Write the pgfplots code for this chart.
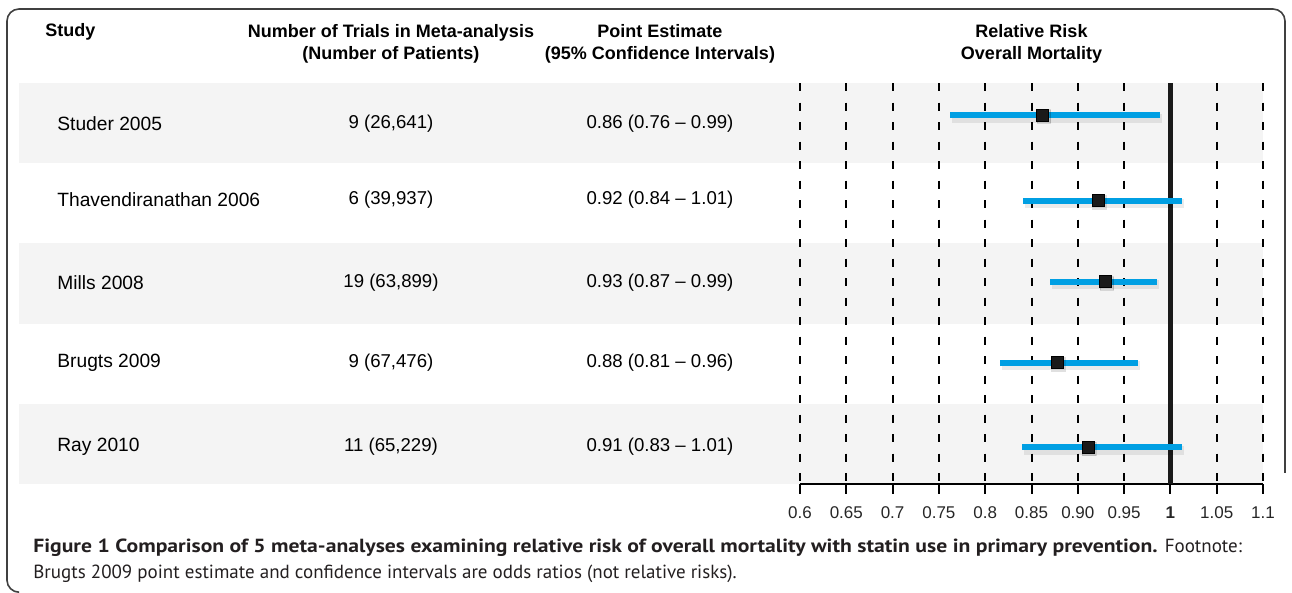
\documentclass[border=0pt]{standalone}
\usepackage{pgfplots}
\pgfplotsset{compat=1.18}
\usepackage{fontspec}
\setmainfont{Liberation Sans}
\newfontfamily\capfont{PT Sans}
\newfontfamily\capbold{PT Sans}[FakeStretch=1.14]
\definecolor{ciblue}{HTML}{009FE3}
\definecolor{bandgray}{HTML}{F4F4F4}
\definecolor{mk}{HTML}{1A1A1A}
\definecolor{captxt}{HTML}{231F20}
\begin{document}
\begin{tikzpicture}
\draw[line width=0.8pt, color=black!75, rounded corners=6pt] (9pt,0.4pt) -- (3.5pt,0.4pt) -- (3.5pt,292pt) -- (642.5pt,292pt) -- (642.5pt,60pt);
\begin{axis}[
  set layers,
  at={(400pt,54.5pt)}, anchor=south west,
  scale only axis, width=231.5pt, height=200.5pt,
  xmin=0.6, xmax=1.1, ymin=0, ymax=5, y dir=reverse,
  clip=false,
  axis x line=bottom, axis y line=left,
  y axis line style={draw=none}, ytick=\empty,
  x axis line style={-, line width=1pt, black},
  xtick={0.6,0.65,0.7,0.75,0.8,0.85,0.9,0.95,1,1.05,1.1},
  xticklabels={0.6,0.65,0.7,0.75,0.8,0.85,0.90,0.95,\textbf{1},1.05,1.1},
  tick align=outside, major tick length=5pt,
  xtick style={line width=1pt, black},
  xticklabel style={font=\fontsize{8.5}{10}\selectfont, text=black!85, yshift=-3pt},
  xmajorgrids,
  major grid style={black, line width=1pt, dash pattern=on 4pt off 5.75pt},
]
% shaded bands
\addplot[fill=bandgray, draw=none, on layer=axis background] coordinates {(-0.2434,0) (1.1,0) (1.1,1) (-0.2434,1)} -- cycle;
\addplot[fill=bandgray, draw=none, on layer=axis background] coordinates {(-0.2434,2) (1.1,2) (1.1,3) (-0.2434,3)} -- cycle;
\addplot[fill=bandgray, draw=none, on layer=axis background] coordinates {(-0.2434,4) (1.1,4) (1.1,5) (-0.2434,5)} -- cycle;
% reference line at 1
\addplot[mk, line width=2.5pt] coordinates {(1,0) (1,5)};
% shadows
\addplot[black, opacity=0.08, line width=4.5pt, xshift=1pt, yshift=-1.5pt] coordinates {(0.762,0.40) (0.989,0.40)};
\addplot[black, opacity=0.08, line width=4.5pt, xshift=1pt, yshift=-1.5pt] coordinates {(0.841,1.47) (1.013,1.47)};
\addplot[black, opacity=0.08, line width=4.5pt, xshift=1pt, yshift=-1.5pt] coordinates {(0.870,2.48) (0.986,2.48)};
\addplot[black, opacity=0.08, line width=4.5pt, xshift=1pt, yshift=-1.5pt] coordinates {(0.816,3.49) (0.965,3.49)};
\addplot[black, opacity=0.08, line width=4.5pt, xshift=1pt, yshift=-1.5pt] coordinates {(0.840,4.54) (1.012,4.54)};
% confidence intervals
\addplot[ciblue, line width=3pt] coordinates {(0.762,0.40) (0.989,0.40)};
\addplot[ciblue, line width=3pt] coordinates {(0.841,1.47) (1.013,1.47)};
\addplot[ciblue, line width=3pt] coordinates {(0.870,2.48) (0.986,2.48)};
\addplot[ciblue, line width=3pt] coordinates {(0.816,3.49) (0.965,3.49)};
\addplot[ciblue, line width=3pt] coordinates {(0.840,4.54) (1.012,4.54)};
% point estimates
\addplot[only marks, mark=square*, mark size=3.4pt, mark options={fill=black, draw=none, opacity=0.12, xshift=0.6pt, yshift=-0.8pt}] coordinates {(0.862,0.40) (0.922,1.47) (0.930,2.48) (0.878,3.49) (0.911,4.54)};
\addplot[only marks, mark=square*, mark size=3pt, mark options={fill=mk, draw=none}] coordinates {(0.862,0.40) (0.922,1.47) (0.930,2.48) (0.878,3.49) (0.911,4.54)};
% headers
\node[anchor=west, inner sep=0pt, font=\fontsize{9}{11}\selectfont\bfseries] at (axis cs:-0.2153,-0.64) {Study};
\node[align=center, font=\fontsize{9}{11}\selectfont\bfseries] at (axis cs:0.1583,-0.49) {Number of Trials in Meta-analysis\\(Number of Patients)};
\node[align=center, font=\fontsize{9}{11}\selectfont\bfseries] at (axis cs:0.4488,-0.49) {Point Estimate\\(95\% Confidence Intervals)};
\node[align=center, font=\fontsize{9}{11}\selectfont\bfseries] at (axis cs:0.85,-0.49) {Relative Risk\\Overall Mortality};
% rows
\node[anchor=west, inner sep=0pt, font=\fontsize{9.6}{11}\selectfont] at (axis cs:-0.2024,0.51) {Studer 2005};
\node[font=\fontsize{9.3}{11}\selectfont] at (axis cs:0.1583,0.51) {9 (26,641)};
\node[font=\fontsize{9.3}{11}\selectfont] at (axis cs:0.4488,0.51) {0.86 (0.76 -- 0.99)};
\node[anchor=west, inner sep=0pt, font=\fontsize{9.6}{11}\selectfont] at (axis cs:-0.2024,1.46) {Thavendiranathan 2006};
\node[font=\fontsize{9.3}{11}\selectfont] at (axis cs:0.1583,1.46) {6 (39,937)};
\node[font=\fontsize{9.3}{11}\selectfont] at (axis cs:0.4488,1.46) {0.92 (0.84 -- 1.01)};
\node[anchor=west, inner sep=0pt, font=\fontsize{9.6}{11}\selectfont] at (axis cs:-0.2024,2.49) {Mills 2008};
\node[font=\fontsize{9.3}{11}\selectfont] at (axis cs:0.1583,2.49) {19 (63,899)};
\node[font=\fontsize{9.3}{11}\selectfont] at (axis cs:0.4488,2.49) {0.93 (0.87 -- 0.99)};
\node[anchor=west, inner sep=0pt, font=\fontsize{9.6}{11}\selectfont] at (axis cs:-0.2024,3.49) {Brugts 2009};
\node[font=\fontsize{9.3}{11}\selectfont] at (axis cs:0.1583,3.49) {9 (67,476)};
\node[font=\fontsize{9.3}{11}\selectfont] at (axis cs:0.4488,3.49) {0.88 (0.81 -- 0.96)};
\node[anchor=west, inner sep=0pt, font=\fontsize{9.6}{11}\selectfont] at (axis cs:-0.2024,4.54) {Ray 2010};
\node[font=\fontsize{9.3}{11}\selectfont] at (axis cs:0.1583,4.54) {11 (65,229)};
\node[font=\fontsize{9.3}{11}\selectfont] at (axis cs:0.4488,4.54) {0.91 (0.83 -- 1.01)};
\end{axis}
\node[anchor=base west, inner sep=0pt, font=\fontsize{9.5}{11}\selectfont, text=captxt] at (16.5pt,20pt) {{\capbold\bfseries Figure 1 Comparison of 5 meta-analyses examining relative risk of overall mortality with statin use in primary prevention.} {\capfont Footnote:}};
\node[anchor=base west, inner sep=0pt, font=\capfont\fontsize{9.5}{11}\selectfont, text=captxt] at (16.5pt,7pt) {Brugts 2009 point estimate and confidence intervals are odds ratios (not relative risks).};
\path[use as bounding box] (0,0) rectangle (646pt,296.5pt);
\end{tikzpicture}
\end{document}
